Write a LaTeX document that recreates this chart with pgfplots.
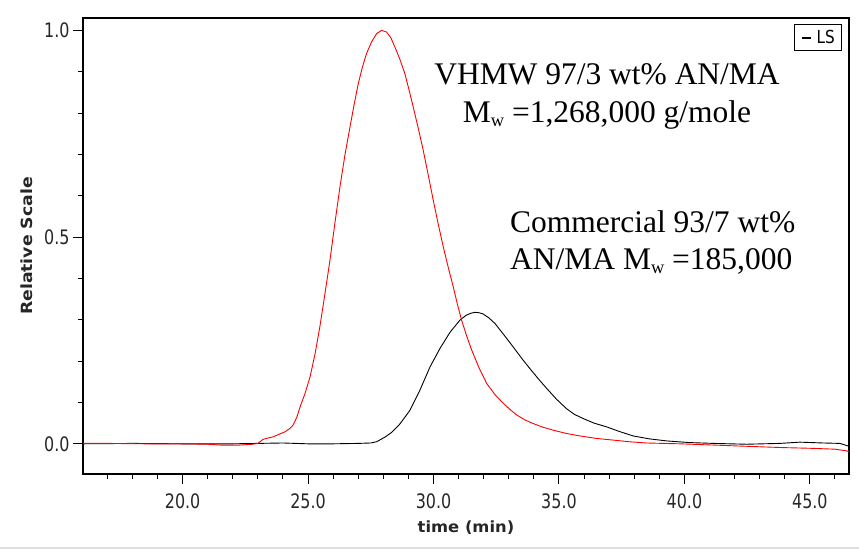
\documentclass[border=0pt]{standalone}
\usepackage{fontspec}
\setmainfont{Liberation Serif}
\newfontfamily\tickfont[FakeStretch=0.8]{DejaVu Sans}
\newfontfamily\legfont[FakeStretch=0.85]{DejaVu Sans}
\newfontfamily\ylabfont[FakeStretch=1.12]{DejaVu Sans Bold}
\newfontfamily\xlabfont[FakeStretch=1.06]{DejaVu Sans Bold}
\usepackage{pgfplots}
\pgfplotsset{compat=1.18}
\begin{document}
\begin{tikzpicture}[x=1bp,y=1bp]
\path[use as bounding box] (0,0) rectangle (859,550);
\draw[black!12, line width=1.2bp] (0,2) -- (859,2);
\begin{axis}[
  at={(83bp,76bp)}, anchor=south west,
  scale only axis, width=766bp, height=456bp,
  xmin=16.03, xmax=46.56, ymin=-0.073, ymax=1.030,
  xtick={20,25,30,35,40,45},
  ytick={0,0.5,1},
  minor xtick={17,18,...,46},
  minor ytick={0.1,0.2,0.3,0.4,0.6,0.7,0.8,0.9},
  tick align=outside, tick pos=left,
  major tick length=10bp, minor tick length=5bp,
  tick style={black, line width=1bp},
  axis line style={line width=1.3bp},
  ticklabel style={font=\tickfont\fontsize{20}{20}\selectfont, text=black!85},
  xticklabel style={yshift=-6bp},
  /pgf/number format/.cd, fixed, fixed zerofill, precision=1, assume math mode=true,
  /pgfplots/.cd,
  xlabel={time (min)},
  ylabel={Relative Scale},
  xlabel style={font=\xlabfont\fontsize{15.5}{15.5}\selectfont, text=black!85,
    at={(axis description cs:0.5,0)}, anchor=center, yshift=-54bp},
  ylabel style={font=\ylabfont\fontsize{15.5}{15.5}\selectfont, text=black!85,
    at={(axis description cs:0,0.5)}, anchor=center, yshift=56bp},
  legend style={at={(0.9905,0.9858)}, anchor=north east, draw=black, line width=1bp,
    font=\legfont\fontsize{18}{18}\selectfont, inner xsep=6.5bp, inner ysep=5.5bp,
    nodes={inner sep=0bp}},
  legend image code/.code={\draw[black, line width=1.3bp] (0bp,0bp) -- (8.7bp,0bp);
    \path[draw=none] (0bp,0bp) -- (14.7bp,0bp);},
]
\addplot[black, line width=0.9bp] coordinates {
(16.03,0.0) (18.0,0.001) (20.0,0.0) (22.0,0.0) (24.0,0.002) (25.0,0.0) (26.0,0.0)
(27.0,0.001) (27.5,0.002) (27.73,0.005) (28.06,0.016) (28.34,0.028) (28.66,0.048)
(29.06,0.081) (29.46,0.130) (29.86,0.186) (30.26,0.231) (30.66,0.270) (31.05,0.299)
(31.30,0.311) (31.50,0.316) (31.65,0.318) (31.82,0.317) (31.98,0.314) (32.20,0.305)
(32.45,0.291) (32.80,0.264) (33.18,0.234) (33.50,0.208) (33.84,0.182) (34.18,0.157)
(34.51,0.134) (34.90,0.108) (35.30,0.085) (35.62,0.071) (35.97,0.061) (36.40,0.050)
(36.90,0.041) (37.40,0.030) (37.96,0.019) (38.60,0.012) (39.29,0.007)
(40.2,0.003) (41.15,0.001) (42.48,-0.001) (43.81,0.001) (44.60,0.004) (45.53,0.002)
(46.2,0.001) (46.56,-0.006)
};
\addlegendentry{LS}
\addplot[red, line width=0.9bp, forget plot] coordinates {
(16.03,0.001) (17.0,0.001) (18.5,0.0) (20.0,0.0) (21.0,-0.001) (21.5,-0.003)
(22.3,-0.003) (22.8,-0.001) (23.0,0.001) (23.21,0.011) (23.61,0.017) (24.08,0.029)
(24.25,0.036) (24.40,0.045) (24.55,0.064) (24.68,0.089) (24.88,0.122) (25.08,0.162)
(25.28,0.218) (25.47,0.283) (25.67,0.362) (25.87,0.443) (26.07,0.534) (26.27,0.621)
(26.47,0.699) (26.67,0.766) (26.84,0.822) (27.00,0.871) (27.17,0.912) (27.33,0.944)
(27.53,0.972) (27.73,0.992) (27.93,1.0) (28.13,0.996) (28.30,0.982) (28.46,0.960)
(28.66,0.930) (28.86,0.895) (29.02,0.857) (29.19,0.815) (29.39,0.764) (29.59,0.710)
(29.79,0.650) (29.99,0.589) (30.19,0.531) (30.39,0.476) (30.59,0.426) (30.79,0.379)
(30.95,0.338) (31.12,0.299) (31.32,0.261) (31.52,0.227) (31.82,0.183) (32.12,0.146)
(32.45,0.119) (32.78,0.098) (33.05,0.083) (33.31,0.070) (33.64,0.058) (33.97,0.049)
(34.37,0.040) (34.77,0.033) (35.30,0.025) (35.84,0.019) (36.50,0.013) (37.16,0.009)
(37.80,0.005) (38.49,0.002) (39.82,0.0) (41.15,-0.003) (42.48,-0.006)
(43.84,-0.009) (45.13,-0.011) (46.0,-0.013) (46.46,-0.017) (46.56,-0.019)
};
\end{axis}
\begin{scope}[font=\fontsize{31.6}{31.6}\selectfont]
\node[anchor=base, inner sep=0] at (607,465) {VHMW 97/3 wt\% AN/MA};
\node[anchor=base, inner sep=0] at (607,427) {M\raisebox{-0.12em}{\fontsize{18.5}{18.5}\selectfont w} =1,268,000 g/mole};
\node[anchor=base west, inner sep=0] at (510,317) {Commercial 93/7 wt\%};
\node[anchor=base west, inner sep=0] at (510,280) {AN/MA M\raisebox{-0.12em}{\fontsize{18.5}{18.5}\selectfont w} =185,000};
\end{scope}
\end{tikzpicture}
\end{document}
